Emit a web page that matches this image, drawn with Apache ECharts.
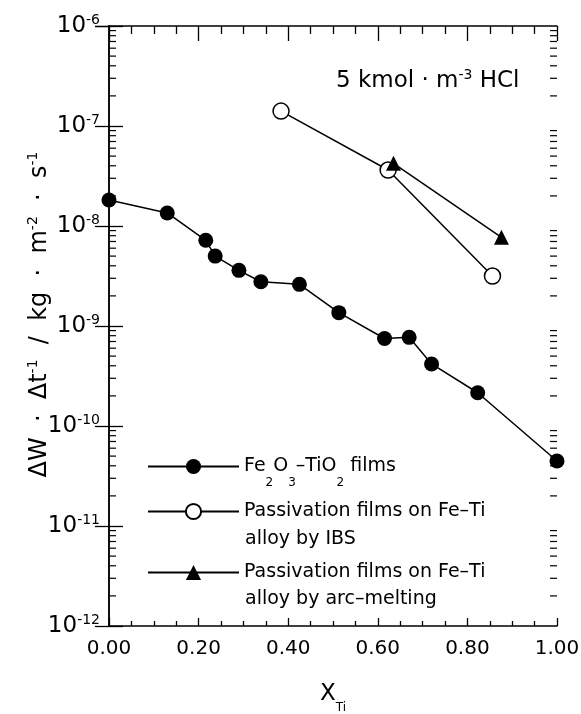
<!DOCTYPE html>
<html>
<head>
<meta charset="utf-8">
<script src="https://cdn.jsdelivr.net/npm/echarts@6/dist/echarts.min.js"></script>
<style>
  body { margin: 0; background: #fff; }
  #main { width: 581px; height: 714px; }
</style>
</head>
<body>
<div id="main"></div>
<script>
// Fe2O3-TiO2 films
var xFilm = [0.00, 0.13, 0.216, 0.237, 0.29, 0.339, 0.425, 0.513, 0.615, 0.67, 0.72, 0.823, 1.00];
var yFilm = [1.82e-8, 1.35e-8, 7.2e-9, 5.0e-9, 3.6e-9, 2.77e-9, 2.61e-9, 1.36e-9, 7.5e-10, 7.7e-10, 4.17e-10, 2.15e-10, 4.47e-11];
// passivation films, IBS
var xIbs = [0.384, 0.623, 0.856];
var yIbs = [1.41e-7, 3.63e-8, 3.16e-9];
// passivation films, arc-melting
var xArc = [0.635, 0.876];
var yArc = [4.24e-8, 7.7e-9];
// log minor ticks 2..9 in every decade
var decades = [-12, -11, -10, -9, -8, -7];
var minorMult = [2, 3, 4, 5, 6, 7, 8, 9];

var names = ['Fe2O3-TiO2 films', 'Passivation films on Fe-Ti (IBS)', 'Passivation films on Fe-Ti (arc)'];

function pairs(xs, ys) {
  return xs.map(function (x, i) { return [x, ys[i]]; });
}
var minorVals = [];
decades.forEach(function (e) {
  minorMult.forEach(function (m) { minorVals.push([0, m * Math.pow(10, e)]); });
});

var FONT = 'DejaVu Sans';
var chart = echarts.init(document.getElementById('main'));

var legendRich = {
  n: { fontSize: 19, fontFamily: FONT, color: '#000', lineHeight: 44 },
  s: { fontSize: 12, fontFamily: FONT, color: '#000', lineHeight: 24, verticalAlign: 'bottom' }
};
function legendAt(name, top) {
  return {
    data: [name],
    left: 142,
    top: top,
    orient: 'vertical',
    itemWidth: 91,
    itemHeight: 19,
    selectedMode: false,
    textStyle: { fontSize: 19, fontFamily: FONT, color: '#000', rich: legendRich },
    formatter: function (n) {
      if (n === names[0]) return '{n|Fe}{s|2}{n|O}{s|3}{n|–TiO}{s|2}{n| films}';
      return '{n|Passivation films on Fe–Ti}';
    }
  };
}

var tickStyle = { color: '#000', width: 1.3 };

var option = {
  animation: false,
  backgroundColor: '#fff',
  grid: { left: 109, right: 24, top: 26, bottom: 88, outerBoundsMode: 'none' },
  legend: [legendAt(names[0], 452), legendAt(names[1], 497), legendAt(names[2], 558)],
  xAxis: [{
    type: 'value', position: 'bottom', min: 0, max: 1, interval: 0.2,
    axisLine: { lineStyle: { color: '#000', width: 1.5 } },
    axisTick: { inside: true, length: 8, lineStyle: tickStyle },
    minorTick: { show: true, splitNumber: 4, length: 5, lineStyle: tickStyle },
    splitLine: { show: false },
    axisLabel: { color: '#000', fontSize: 20, fontFamily: FONT, margin: 13,
      formatter: function (v) { return v.toFixed(2); } },
    name: '{x|X}{sub|Ti}', nameLocation: 'middle', nameGap: 48, nameMoveOverlap: false,
    nameTextStyle: { rich: {
      x: { fontSize: 23, fontFamily: FONT, color: '#000', lineHeight: 40 },
      sub: { fontSize: 12, fontFamily: FONT, color: '#000', lineHeight: 4, verticalAlign: 'bottom' }
    } }
  }, {
    type: 'value', position: 'top', min: 0, max: 1, interval: 0.2,
    axisLine: { lineStyle: { color: '#000', width: 1.5 } },
    axisTick: { inside: true, length: 15, lineStyle: tickStyle },
    minorTick: { show: true, splitNumber: 4, length: 8, lineStyle: tickStyle },
    splitLine: { show: false },
    axisLabel: { show: false }
  }],
  yAxis: [{
    type: 'log', logBase: 10, min: 1e-12, max: 1e-6, position: 'left',
    axisLine: { show: true, lineStyle: { color: '#000', width: 1.5 } },
    axisTick: { inside: true, length: 14, lineStyle: tickStyle },
    splitLine: { show: false },
    axisLabel: {
      margin: 9,
      formatter: function (v) {
        return '{b|10}{sup|' + Math.round(Math.log10(v)) + '}';
      },
      rich: {
        b: { fontSize: 23, fontFamily: FONT, color: '#000', lineHeight: 26 },
        sup: { fontSize: 14, fontFamily: FONT, color: '#000', lineHeight: 12, verticalAlign: 'top' }
      }
    },
    name: '{t|   ΔW  ·  Δt}{sup|-1}{t|  /  kg  ·  m}{sup|-2}{t|  ·  s}{sup|-1}',
    nameLocation: 'middle', nameGap: 55, nameRotate: 90, nameMoveOverlap: false,
    nameTextStyle: { rich: {
      t: { fontSize: 24, fontFamily: FONT, color: '#000', lineHeight: 28 },
      sup: { fontSize: 14, fontFamily: FONT, color: '#000', lineHeight: 12, verticalAlign: 'top' }
    } }
  }, {
    type: 'log', logBase: 10, min: 1e-12, max: 1e-6, position: 'right',
    axisLine: { show: true, lineStyle: { color: '#000', width: 1.5 } },
    axisTick: { inside: true, length: 14, lineStyle: tickStyle },
    splitLine: { show: false },
    axisLabel: { show: false }
  }],
  graphic: [{
    type: 'text', left: 336, top: 68,
    style: {
      text: '{t|5 kmol · m}{sup|-3}{t| HCl}',
      rich: {
        t: { fontSize: 23, fontFamily: FONT, fill: '#000', lineHeight: 26 },
        sup: { fontSize: 14, fontFamily: FONT, fill: '#000', lineHeight: 10, verticalAlign: 'top' }
      }
    }
  }, {
    type: 'text', left: 245, top: 530,
    style: { text: 'alloy by IBS', fontSize: 19, fontFamily: FONT, fill: '#000' }
  }, {
    type: 'text', left: 245, top: 590,
    style: { text: 'alloy by arc–melting', fontSize: 19, fontFamily: FONT, fill: '#000' }
  }],
  series: [{
    name: names[0], type: 'line', data: pairs(xFilm, yFilm),
    symbol: 'circle', symbolSize: 15,
    itemStyle: { color: '#000' },
    lineStyle: { color: '#000', width: 1.5 }
  }, {
    name: names[1], type: 'line', data: pairs(xIbs, yIbs),
    symbol: 'circle', symbolSize: 16,
    itemStyle: { color: '#fff', borderColor: '#000', borderWidth: 1.5 },
    lineStyle: { color: '#000', width: 1.5 }, z: 3
  }, {
    name: names[2], type: 'line', data: pairs(xArc, yArc),
    symbol: 'triangle', symbolSize: 15,
    itemStyle: { color: '#000' },
    lineStyle: { color: '#000', width: 1.5 }, z: 4
  }, {
    type: 'custom', silent: true, data: minorVals, clip: false,
    renderItem: function (params, api) {
      var y = api.coord([0, api.value(1)])[1];
      var cs = params.coordSys;
      var st = { stroke: '#000', lineWidth: 1.2 };
      return { type: 'group', children: [
        { type: 'line', shape: { x1: cs.x, y1: y, x2: cs.x + 7, y2: y }, style: st },
        { type: 'line', shape: { x1: cs.x + cs.width, y1: y, x2: cs.x + cs.width - 7, y2: y }, style: st }
      ] };
    }
  }]
};
chart.setOption(option);
</script>
</body>
</html>
